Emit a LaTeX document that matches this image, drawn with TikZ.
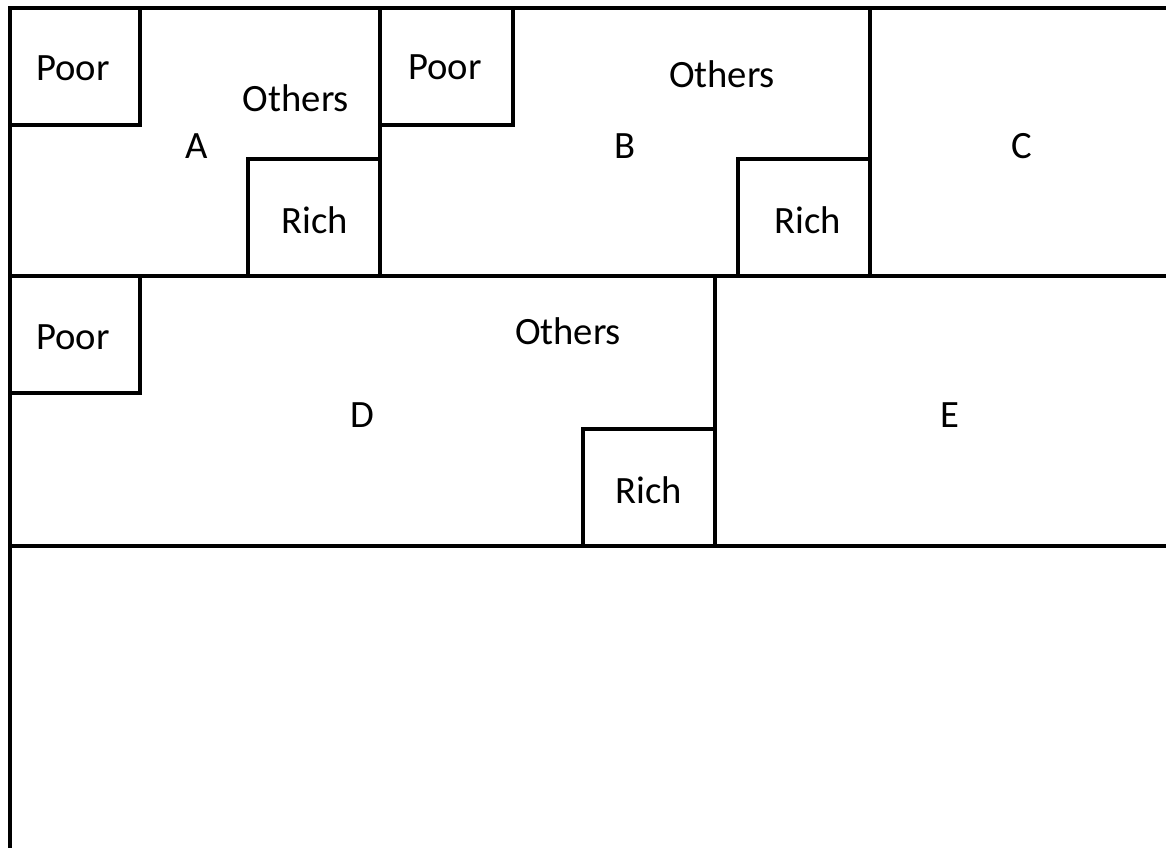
\documentclass[tikz,border=0pt]{standalone}
\usepackage{fontspec}
\setmainfont{Carlito}
\tikzset{
  wall/.style={line width=2.3pt, line cap=rect},
  lbl/.style={font=\fontsize{22}{26}\selectfont, inner sep=0pt}
}
\begin{document}
\begin{tikzpicture}[x=0.02cm, y=-0.02cm]
      \useasboundingbox (0,0) rectangle (1166,848);

      % outer lines and rows
      \draw[wall] (1166,8) -- (10,8) -- (10,848);
      \draw[wall] (10,276) -- (1166,276);
      \draw[wall] (10,546) -- (1166,546);
      \draw[wall] (380,8) -- (380,276);
      \draw[wall] (870,8) -- (870,276);
      \draw[wall] (715,276) -- (715,546);

      % poor corners
      \foreach \x/\y/\w in {10/8/130, 380/8/133, 10/276/130}
          \draw[wall] (\x,\y+117) -- (\x+\w,\y+117) -- (\x+\w,\y);

      % rich corners
      \foreach \x/\y in {380/276, 870/276, 715/546}
          \draw[wall] (\x-132,\y) -- (\x-132,\y-117) -- (\x,\y-117);

      \node[lbl] (poorA) at (73,68) {Poor};
      \node[lbl] (othersA) at (296,98) {Others};
      \node[lbl] (nameA) at (197,146) {A};
      \node[lbl] (richA) at (315,220) {Rich};

      \node[lbl] (poorB) at (445,67) {Poor};
      \node[lbl] (othersB) at (722,74) {Others};
      \node[lbl] (nameB) at (625,146) {B};
      \node[lbl] (richB) at (808,220) {Rich};

      \node[lbl] (nameC) at (1022,146) {C};

      \node[lbl] (poorD) at (73,337) {Poor};
      \node[lbl] (othersD) at (568,331) {Others};
      \node[lbl] (nameD) at (362,415) {D};
      \node[lbl] (richD) at (649,490) {Rich};

      \node[lbl] (nameE) at (950,415) {E};
    \end{tikzpicture}
\end{document}
